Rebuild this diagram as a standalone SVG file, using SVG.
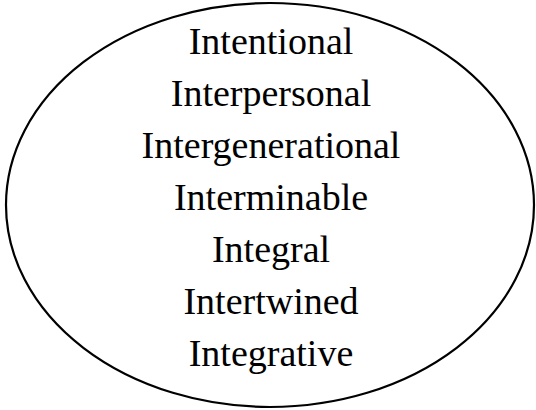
<svg xmlns="http://www.w3.org/2000/svg" width="536" height="410" viewBox="0 0 536 410">
<style>
.t{font-family:"Liberation Serif","Times New Roman",serif;font-size:38px;fill:#000;text-anchor:middle}
</style>
<rect width="536" height="410" fill="#fff"/>
<g id="ellipse">
<ellipse cx="270" cy="205" rx="264" ry="202" fill="none" stroke="#000" stroke-width="2.2"/>
</g>
<g id="labels">
<text class="t" x="271" y="54">Intentional</text>
<text class="t" x="271" y="106">Interpersonal</text>
<text class="t" x="271" y="158">Intergenerational</text>
<text class="t" x="271" y="210">Interminable</text>
<text class="t" x="271" y="262">Integral</text>
<text class="t" x="271" y="314">Intertwined</text>
<text class="t" x="271" y="366">Integrative</text>
</g>
</svg>
